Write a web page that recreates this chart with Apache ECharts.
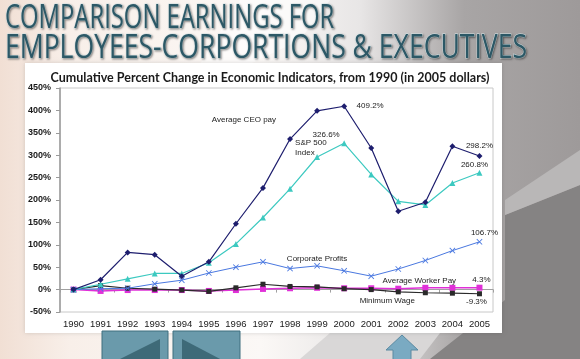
<!DOCTYPE html>
<html><head><meta charset="utf-8">
<script src="https://cdn.jsdelivr.net/npm/echarts@6/dist/echarts.min.js"></script>
<style>html,body{margin:0;padding:0;}#c{width:580px;height:359px;}</style>
</head><body><div id="c"></div>
<script>
const years = ['1990','1991','1992','1993','1994','1995','1996','1997','1998','1999','2000','2001','2002','2003','2004','2005'];
const ceoPay = [0, 22, 83, 78, 30, 62, 147, 227, 336, 399, 409.2, 316, 175, 195, 320, 298.2];
const sp500 = [0, 12, 24, 36, 36, 60, 102, 161, 225, 296, 326.6, 257, 197, 189, 238, 260.8];
const corpProfits = [0, 2, 3, 13, 21, 37, 50, 62, 47, 53, 42, 30, 46, 65, 87, 106.7];
const workerPay = [0, -3, -1, -1, -1, -3, -1, 1.5, 3, 4, 3, 3, 2, 4, 4, 4.3];
const minWage = [0, 9, 3, 1, -1, -4, 4, 12, 7, 6, 2, 0, -5, -7, -8, -9.3];
const yTicks = {min: -50, max: 450, interval: 50};
const chartTitle = 'Cumulative Percent Change in Economic Indicators, from 1990 (in 2005 dollars)';
const slideTitle1 = 'COMPARISON EARNINGS FOR';
const slideTitle2 = 'EMPLOYEES-CORPORTIONS & EXECUTIVES';

const chart = echarts.init(document.getElementById('c'), null, {renderer: 'canvas'});
const xSym = 'path://M0,1L1,0L5,4L9,0L10,1L6,5L10,9L9,10L5,6L1,10L0,9L4,5Z';
const annFont = {fontFamily: 'Arial, Liberation Sans', fontSize: 8, color: '#222'};
function ann(name, coord, text, offset, align) {
  return {name: name, coord: coord, symbol: 'circle', symbolSize: 0,
    label: Object.assign({show: true, formatter: text, position: 'inside', offset: offset || [0,0], align: align || 'center', lineHeight: 10}, annFont)};
}
const titleStyle = {font: '32px "Open Sans", Roboto, sans-serif', fill: '#2c5866',
  stroke: '#dbe9ec', lineWidth: 1, textShadowColor: 'rgba(0,0,0,0.35)', textShadowBlur: 2, textShadowOffsetX: 1, textShadowOffsetY: 1};

chart.setOption({
  backgroundColor: 'transparent',
  animation: false,
  graphic: [
    {type: 'rect', z: -20, shape: {x: 0, y: 0, width: 580, height: 359},
      style: {fill: new echarts.graphic.LinearGradient(0, 0, 1, 0, [
        {offset: 0, color: '#f1dfd4'}, {offset: 0.12, color: '#f8efe9'}, {offset: 0.45, color: '#fbf8f6'},
        {offset: 0.62, color: '#e8e6e6'}, {offset: 0.8, color: '#a8a5a5'}, {offset: 1, color: '#9e9a9a'}])}},
    {type: 'polygon', z: -19, shape: {points: [[240, 0], [330, 0], [300, 40], [250, 64], [200, 64]]},
      style: {fill: 'rgba(255,255,255,0.55)'}},
    {type: 'polygon', z: -19, shape: {points: [[505, 215], [580, 185], [580, 359], [430, 359], [505, 300]]},
      style: {fill: '#858383'}},
    {type: 'polygon', z: -19, shape: {points: [[505, 200], [580, 150], [580, 185], [505, 215]]},
      style: {fill: '#b9b7b7'}},
    {type: 'polygon', z: -19, shape: {points: [[300, 359], [330, 333], [440, 333], [420, 359]]},
      style: {fill: '#d9d7d7'}},
    {type: 'rect', z: -18, shape: {x: 25, y: 63, width: 477, height: 270},
      style: {fill: '#ffffff', shadowColor: 'rgba(0,0,0,0.15)', shadowBlur: 4}},
    {type: 'text', z: 10, x: 5, y: 3, scaleX: 0.745, style: Object.assign({text: slideTitle1}, titleStyle)},
    {type: 'text', z: 10, x: 5, y: 33, scaleX: 0.83, style: Object.assign({text: slideTitle2}, titleStyle)},
    // navigation buttons
    {type: 'rect', z: 5, shape: {x: 102, y: 331, width: 66, height: 30},
      style: {fill: '#6a9aab', stroke: '#3f6e7e', lineWidth: 1}},
    {type: 'polygon', z: 6, shape: {points: [[160, 339], [160, 360], [118, 360]]}, style: {fill: '#3e6a78'}},
    {type: 'rect', z: 5, shape: {x: 173, y: 331, width: 67, height: 30},
      style: {fill: '#6a9aab', stroke: '#3f6e7e', lineWidth: 1}},
    {type: 'polygon', z: 6, shape: {points: [[182, 339], [182, 360], [222, 360]]}, style: {fill: '#3e6a78'}},
    {type: 'polygon', z: 5, shape: {points: [[402, 335], [418, 350], [411, 350], [411, 360], [393, 360], [393, 350], [386, 350]]},
      style: {fill: '#7aaac2', stroke: '#5b8aa2', lineWidth: 1}}
  ],
  title: {
    text: chartTitle, left: 265, top: 66, textAlign: 'center',
    textStyle: {fontFamily: 'Lato, sans-serif', fontWeight: 'bold', fontSize: 12.5, color: '#1a1a1a'}
  },
  grid: {left: 60, right: 87, top: 88, bottom: 47, show: true, borderColor: '#c8c8c8', borderWidth: 1, backgroundColor: 'transparent'},
  xAxis: [
    {type: 'category', data: years, boundaryGap: true, position: 'bottom',
      axisLine: {show: false, onZero: false}, axisTick: {show: false}, splitLine: {show: false},
      axisLabel: {interval: 0, color: '#1a1a1a', fontSize: 9.5, fontFamily: 'Arial, Liberation Sans', margin: 7}},
    {type: 'category', data: years, boundaryGap: true, position: 'top',
      axisLine: {show: true, onZero: true, lineStyle: {color: '#a0a0a0', width: 1}},
      axisTick: {show: true, inside: true, length: 3, lineStyle: {color: '#a0a0a0'}},
      axisLabel: {show: false}, splitLine: {show: false}}
  ],
  yAxis: {type: 'value', min: yTicks.min, max: yTicks.max, interval: yTicks.interval,
    axisLine: {show: true, lineStyle: {color: '#9a9a9a', width: 1.5}},
    axisTick: {show: true, length: 4, lineStyle: {color: '#9a9a9a'}},
    splitLine: {show: false},
    axisLabel: {formatter: '{value}%', color: '#1a1a1a', fontSize: 9, fontWeight: 'bold', fontFamily: 'Arial, Liberation Sans', margin: 9}},
  series: [
    {name: 'Average Worker Pay', type: 'line', data: workerPay, xAxisIndex: 0, z: 3,
      symbol: 'rect', symbolSize: 6, lineStyle: {color: '#e030d8', width: 1.5}, itemStyle: {color: '#e030d8'},
      markPoint: {data: [ann('awp', ['2003', 20], 'Average Worker Pay', [-6, 0]), ann('v', ['2005', 4.3], '4.3%', [2, -8])]}},
    {name: 'Minimum Wage', type: 'line', data: minWage, xAxisIndex: 0, z: 4,
      symbol: 'rect', symbolSize: 5, lineStyle: {color: '#2a2a2a', width: 1.2}, itemStyle: {color: '#2a2a2a'},
      markPoint: {data: [ann('mw', ['2002', -24], 'Minimum Wage', [-11, 0]), ann('v', ['2005', -9.3], '-9.3%', [-3, 8])]}},
    {name: 'Corporate Profits', type: 'line', data: corpProfits, xAxisIndex: 0, z: 5,
      symbol: xSym, symbolSize: 6, lineStyle: {color: '#4a78e0', width: 1}, itemStyle: {color: '#4a78e0'},
      markPoint: {data: [ann('cp', ['1999', 69], 'Corporate Profits', [0, 0]), ann('v', ['2005', 106.7], '106.7%', [5, -9])]}},
    {name: 'S&P 500 Index', type: 'line', data: sp500, xAxisIndex: 0, z: 6,
      symbol: 'triangle', symbolSize: 6, lineStyle: {color: '#3cc9c0', width: 1.2}, itemStyle: {color: '#3cc9c0'},
      markPoint: {data: [ann('sp', ['1999', 317], 'S&P 500\nIndex', [-22, 0], 'left'), ann('v', ['2000', 326.6], '326.6%', [-18, -8]),
        ann('v2', ['2005', 260.8], '260.8%', [-5, -8])]}},
    {name: 'Average CEO pay', type: 'line', data: ceoPay, xAxisIndex: 0, z: 7,
      symbol: 'diamond', symbolSize: 6, lineStyle: {color: '#1e1e6e', width: 1.2}, itemStyle: {color: '#1e1e6e'},
      markPoint: {data: [ann('ceo', ['1996', 379], 'Average CEO pay', [8, 0]), ann('v', ['2000', 409.2], '409.2%', [26, 0]),
        ann('v2', ['2005', 298.2], '298.2%', [0, -10])]}}
  ]
});
</script></body></html>
